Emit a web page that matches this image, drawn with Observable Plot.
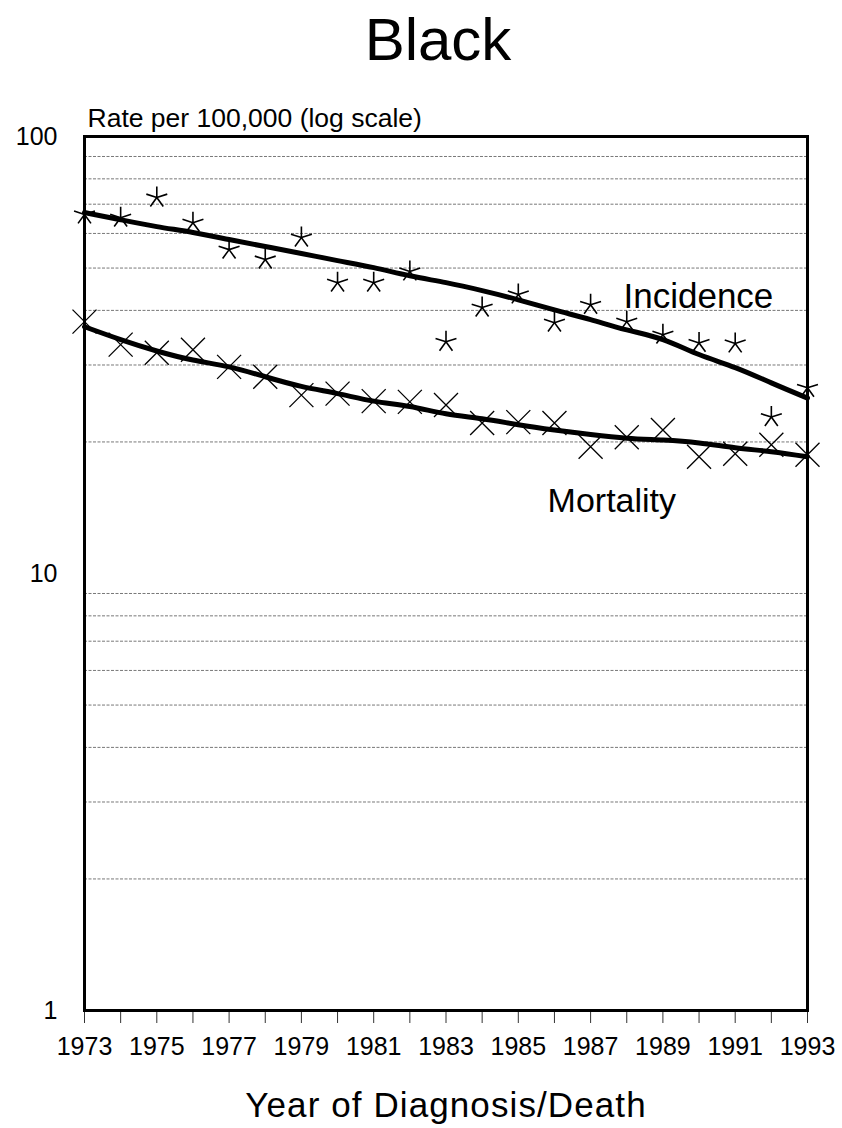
<!DOCTYPE html>
<html>
<head>
<meta charset="utf-8">
<script src="https://cdn.jsdelivr.net/npm/d3@7"></script>
<script src="https://cdn.jsdelivr.net/npm/@observablehq/plot@0.6"></script>
<style>
  html, body { margin: 0; padding: 0; background: #fff; }
  body { width: 842px; font-family: "Liberation Sans", Arial, sans-serif; }
  #title { height: 80px; line-height: 80px; font-size: 60px; text-align: center; padding-left: 34px; color: #000; }
  svg { display: block; }
</style>
</head>
<body>
<div id="title">Black</div>
<div id="chart"></div>
<script>
const years = [1973,1974,1975,1976,1977,1978,1979,1980,1981,1982,1983,1984,1985,1986,1987,1988,1989,1990,1991,1992,1993];
const incidence = [66.3,65.2,72.5,63.5,55.1,52.3,58.7,46.3,46.3,49.1,33.9,40.6,43.5,37.5,41.2,37.7,35.2,33.7,33.6,22.8,26.6];
const mortality = [37.7,33.4,32.0,32.5,29.7,28.2,25.6,25.8,24.8,24.7,24.3,22.1,22.2,22.1,19.5,20.5,21.3,18.5,18.8,19.7,18.7];
const incidenceFit = [67.0,64.5,62.2,60.3,58.1,56.0,54.0,52.0,50.1,48.0,46.3,44.4,42.3,40.1,38.1,36.1,34.3,31.7,29.6,27.3,25.2];
const mortalityFit = [36.7,34.3,32.3,30.8,29.7,28.2,26.8,25.8,24.8,24.1,23.2,22.6,21.9,21.3,20.8,20.4,20.2,19.9,19.4,19.0,18.5];
const yTickValues = [1, 10, 100];
const gridValues = [2,3,4,5,6,7,8,9,20,30,40,50,60,70,80,90];
const xLabelYears = [1973,1975,1977,1979,1981,1983,1985,1987,1989,1991,1993];

const pts = years.map((y, i) => ({year: y, inc: incidence[i], mort: mortality[i], incFit: incidenceFit[i], mortFit: mortalityFit[i]}));

// five-armed asterisk
const star5 = {
  draw(ctx, size) {
    const r = Math.sqrt(size / Math.PI);
    for (let k = 0; k < 5; k++) {
      const a = -Math.PI / 2 + k * 2 * Math.PI / 5;
      ctx.moveTo(0, 0);
      ctx.lineTo(r * Math.cos(a), r * Math.sin(a));
    }
  }
};
const cross = {
  draw(ctx, size) {
    const r = Math.sqrt(size / Math.PI);
    ctx.moveTo(-r, -r); ctx.lineTo(r, r);
    ctx.moveTo(-r, r); ctx.lineTo(r, -r);
  }
};

const xTitle = "Year of Diagnosis/Death";

const chart = Plot.plot({
  width: 842,
  height: 1048,
  marginTop: 56,
  marginBottom: 118,
  marginLeft: 84,
  marginRight: 35,
  style: {fontFamily: "'Liberation Sans', Arial, sans-serif", background: "#fff", color: "#000"},
  x: {domain: [1973, 1993]},
  y: {type: "log", domain: [1, 100]},
  marks: [
    Plot.ruleY(gridValues, {stroke: "#555", strokeWidth: 0.8, strokeDasharray: "3,1.5"}),
    Plot.axisX({ticks: years, tickSize: 13, tickFormat: () => "", stroke: "#333", strokeWidth: 1, label: null}),
    Plot.axisX({ticks: xLabelYears, tickSize: 0, tickPadding: 27, tickFormat: d => String(d), fontSize: 25, label: null}),
    Plot.axisY({ticks: yTickValues, tickSize: 0, tickPadding: 27, tickFormat: d => String(d), fontSize: 25, label: null}),
    Plot.line(pts, {x: "year", y: "incFit", stroke: "#000", strokeWidth: 5, curve: "natural"}),
    Plot.line(pts, {x: "year", y: "mortFit", stroke: "#000", strokeWidth: 5, curve: "natural"}),
    Plot.dot(pts, {x: "year", y: "inc", symbol: star5, r: 11, stroke: "#000", strokeWidth: 1.6, fill: "none"}),
    Plot.dot(pts, {x: "year", y: "mort", symbol: cross, r: 12, stroke: "#000", strokeWidth: 1.3, fill: "none"}),
    Plot.text(["Incidence"], {x: 1987.91, y: 40.6, text: d => d, textAnchor: "start", lineAnchor: "bottom", fontSize: 35, fill: "#000"}),
    Plot.text(["Mortality"], {x: 1985.81, y: 13.8, text: d => d, textAnchor: "start", lineAnchor: "bottom", fontSize: 34, fill: "#000"}),
    Plot.text(["Rate per 100,000 (log scale)"], {frameAnchor: "top-left", text: d => d, textAnchor: "start", lineAnchor: "bottom", dx: 3, dy: -10, fontSize: 26.5, fill: "#000"}),
    Plot.text([xTitle], {frameAnchor: "bottom", text: d => d, lineAnchor: "bottom", dy: 106, fontSize: 35, fill: "#000"}),
    Plot.frame({stroke: "#000", strokeWidth: 3})
  ]
});
d3.select(chart).selectAll("text").filter(function() { return this.textContent === xTitle; })
  .attr("letter-spacing", "1.1px");
document.getElementById("chart").appendChild(chart);
</script>
</body>
</html>
